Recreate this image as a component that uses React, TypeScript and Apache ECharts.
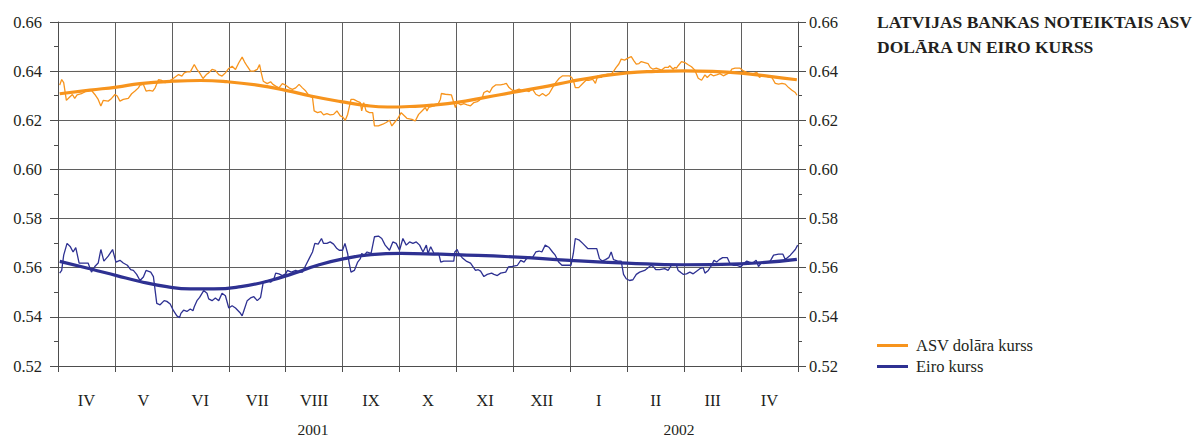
import React, { useEffect, useRef } from "react";
import * as echarts from "echarts";

const FONT = "Liberation Serif";
const TEXT = "#231f20";
const ORANGE = "#f7941d";
const BLUE = "#2e3192";

const monthLabels = ["IV", "V", "VI", "VII", "VIII", "IX", "X", "XI", "XII", "I", "II", "III", "IV"];
const yearLabels = ["2001", "2002"];
const legendNames = ["ASV dolāra kurss", "Eiro kurss"];
const titleLines = ["LATVIJAS BANKAS NOTEIKTAIS ASV", "DOLĀRA UN EIRO KURSS"];

// x = months elapsed since 1 April 2001
const usdDaily: [number, number][] = [
  [0.03,0.6343],[0.065,0.6366],[0.10,0.6353],[0.147,0.6281],[0.206,0.6295],[0.253,0.6305],[0.294,0.6289],[0.335,0.6303],[0.412,0.6308],[0.50,0.6319],[0.588,0.6322],[0.647,0.6305],[0.706,0.6285],[0.753,0.6258],[0.794,0.6281],[0.882,0.6278],[0.941,0.6289],[1.0,0.6305],[1.041,0.6299],[1.088,0.6278],[1.147,0.6285],[1.235,0.6289],[1.294,0.6308],[1.353,0.6319],[1.412,0.6332],[1.441,0.6343],[1.50,0.6346],[1.547,0.6319],[1.606,0.6322],[1.665,0.6319],[1.706,0.6332],[1.765,0.6365],[1.824,0.6362],[1.882,0.6353],[1.941,0.6359],[2.0,0.6366],[2.059,0.6376],[2.118,0.6386],[2.176,0.638],[2.218,0.6393],[2.265,0.6397],[2.324,0.6397],[2.394,0.6427],[2.441,0.6407],[2.488,0.6393],[2.547,0.637],[2.606,0.6386],[2.647,0.6393],[2.706,0.6407],[2.765,0.6403],[2.824,0.6386],[2.882,0.638],[2.941,0.6393],[3.0,0.6411],[3.059,0.642],[3.118,0.6407],[3.176,0.6434],[3.235,0.6457],[3.276,0.6438],[3.324,0.642],[3.382,0.64],[3.441,0.64],[3.50,0.6407],[3.541,0.6427],[3.571,0.6393],[3.606,0.6359],[3.676,0.6349],[3.735,0.6357],[3.776,0.6346],[3.824,0.6339],[3.882,0.6332],[3.941,0.6349],[4.0,0.6343],[4.059,0.6332],[4.118,0.6326],[4.176,0.6332],[4.235,0.6346],[4.294,0.6332],[4.353,0.6319],[4.412,0.6299],[4.471,0.6292],[4.50,0.6238],[4.559,0.6231],[4.618,0.6235],[4.665,0.6222],[4.724,0.6227],[4.782,0.6222],[4.841,0.6224],[4.90,0.6238],[4.959,0.6218],[5.0,0.6214],[5.047,0.62],[5.088,0.6224],[5.147,0.6285],[5.194,0.6285],[5.253,0.6278],[5.312,0.6272],[5.335,0.6238],[5.371,0.6272],[5.412,0.6238],[5.471,0.6231],[5.529,0.6231],[5.559,0.6177],[5.629,0.6177],[5.706,0.6184],[5.765,0.6191],[5.824,0.62],[5.865,0.6177],[5.912,0.6191],[5.971,0.6208],[6.029,0.6231],[6.129,0.6208],[6.218,0.6204],[6.276,0.6197],[6.335,0.6224],[6.394,0.6238],[6.453,0.6252],[6.482,0.6238],[6.512,0.6252],[6.60,0.6259],[6.676,0.6265],[6.718,0.6286],[6.735,0.6309],[6.806,0.6306],[6.912,0.6303],[6.953,0.6272],[6.982,0.6252],[7.012,0.6272],[7.071,0.6263],[7.129,0.6268],[7.188,0.6263],[7.247,0.6259],[7.306,0.6272],[7.365,0.6276],[7.406,0.6282],[7.453,0.6293],[7.482,0.6313],[7.541,0.632],[7.582,0.6313],[7.629,0.6333],[7.688,0.6344],[7.776,0.6344],[7.835,0.6347],[7.876,0.635],[7.924,0.6333],[7.982,0.6322],[8.041,0.6322],[8.10,0.6327],[8.159,0.632],[8.218,0.6322],[8.276,0.6317],[8.335,0.6327],[8.394,0.6306],[8.453,0.6299],[8.512,0.6309],[8.571,0.6299],[8.629,0.6309],[8.688,0.6333],[8.747,0.6354],[8.806,0.6371],[8.865,0.6381],[8.924,0.6381],[8.982,0.6381],[9.024,0.6374],[9.053,0.6363],[9.088,0.6333],[9.147,0.6333],[9.218,0.635],[9.276,0.6363],[9.335,0.6363],[9.394,0.6367],[9.441,0.635],[9.482,0.6381],[9.541,0.6374],[9.60,0.6385],[9.659,0.6388],[9.718,0.6388],[9.765,0.6401],[9.806,0.6415],[9.853,0.6429],[9.894,0.6449],[9.953,0.6445],[10.012,0.6453],[10.071,0.6459],[10.118,0.6442],[10.159,0.6429],[10.206,0.6431],[10.247,0.6439],[10.306,0.6435],[10.365,0.6431],[10.406,0.6415],[10.453,0.6408],[10.512,0.6412],[10.60,0.6404],[10.659,0.6415],[10.718,0.6415],[10.747,0.6422],[10.806,0.6408],[10.835,0.6415],[10.865,0.6412],[10.894,0.6422],[10.953,0.6439],[11.012,0.6435],[11.071,0.6426],[11.129,0.6418],[11.188,0.6404],[11.247,0.6371],[11.306,0.6363],[11.365,0.6385],[11.406,0.6374],[11.465,0.6388],[11.512,0.6381],[11.571,0.6385],[11.629,0.639],[11.688,0.6381],[11.747,0.6388],[11.806,0.6395],[11.835,0.6408],[11.894,0.6412],[11.982,0.6412],[12.041,0.6401],[12.10,0.6395],[12.159,0.639],[12.218,0.639],[12.276,0.6395],[12.324,0.6374],[12.365,0.6385],[12.424,0.6381],[12.482,0.6377],[12.541,0.6374],[12.60,0.635],[12.659,0.6347],[12.718,0.635],[12.776,0.6347],[12.835,0.6333],[12.894,0.6322],[12.953,0.6313],[12.982,0.6302]
];

const usdTrend: [number, number][] = [
  [0.03,0.6308],[0.56,0.6323],[1.03,0.6335],[1.44,0.6349],[2.03,0.6359],[2.5,0.6362],[2.97,0.6357],[3.5,0.6343],[4.0,0.6322],[4.44,0.6299],[4.97,0.6276],[5.38,0.6261],[5.79,0.6254],[6.27,0.6257],[6.63,0.6263],[6.98,0.6272],[7.51,0.6293],[7.98,0.6313],[8.51,0.6335],[9.0,0.6358],[9.5,0.6378],[10.0,0.6393],[10.5,0.6399],[11.0,0.6401],[11.5,0.6399],[12.0,0.6392],[12.5,0.6379],[12.98,0.6365]
];

const eurDaily: [number, number][] = [
  [0.029,0.5578],[0.065,0.5589],[0.10,0.5651],[0.159,0.5699],[0.218,0.5685],[0.265,0.5664],[0.312,0.5682],[0.371,0.5619],[0.441,0.5619],[0.529,0.5619],[0.588,0.5582],[0.647,0.5605],[0.706,0.5619],[0.753,0.5674],[0.806,0.5627],[0.882,0.5647],[0.959,0.5674],[1.018,0.5623],[1.088,0.563],[1.147,0.5619],[1.218,0.561],[1.276,0.5592],[1.324,0.5589],[1.382,0.5573],[1.441,0.5548],[1.50,0.5562],[1.547,0.5589],[1.629,0.5582],[1.676,0.5564],[1.735,0.5455],[1.794,0.5449],[1.865,0.5466],[1.912,0.5463],[1.971,0.5452],[2.029,0.5425],[2.088,0.5404],[2.135,0.5397],[2.159,0.5414],[2.206,0.5427],[2.265,0.5422],[2.324,0.5432],[2.371,0.5425],[2.394,0.5441],[2.441,0.5466],[2.488,0.5479],[2.559,0.5507],[2.618,0.5496],[2.647,0.5473],[2.706,0.5466],[2.765,0.5477],[2.824,0.5466],[2.882,0.5496],[2.941,0.5486],[3.0,0.5436],[3.059,0.5445],[3.118,0.5436],[3.194,0.5418],[3.235,0.5404],[3.265,0.5425],[3.324,0.5466],[3.382,0.5477],[3.441,0.5482],[3.50,0.5466],[3.559,0.5479],[3.606,0.5541],[3.676,0.5548],[3.735,0.5541],[3.794,0.5555],[3.824,0.5578],[3.882,0.5575],[3.941,0.5568],[4.0,0.5575],[4.029,0.5589],[4.10,0.5582],[4.176,0.5589],[4.235,0.5582],[4.294,0.5582],[4.353,0.561],[4.412,0.5637],[4.471,0.5664],[4.512,0.5699],[4.571,0.5696],[4.629,0.5719],[4.665,0.5699],[4.724,0.5699],[4.782,0.5705],[4.841,0.5696],[4.90,0.5678],[4.941,0.5671],[5.0,0.5671],[5.041,0.5699],[5.088,0.5658],[5.118,0.5616],[5.147,0.5582],[5.206,0.5589],[5.265,0.5623],[5.312,0.5637],[5.335,0.5658],[5.382,0.5651],[5.429,0.5664],[5.50,0.5658],[5.559,0.5726],[5.629,0.5729],[5.688,0.5719],[5.747,0.5692],[5.824,0.5671],[5.882,0.5705],[5.941,0.5699],[6.0,0.5671],[6.059,0.5719],[6.118,0.5692],[6.176,0.5705],[6.235,0.5699],[6.294,0.5705],[6.353,0.5692],[6.412,0.5664],[6.471,0.5692],[6.50,0.5658],[6.547,0.5685],[6.606,0.5658],[6.688,0.5658],[6.724,0.5623],[6.776,0.5627],[6.865,0.5627],[6.953,0.5627],[6.971,0.5664],[7.012,0.5674],[7.041,0.5658],[7.10,0.5641],[7.171,0.5627],[7.247,0.5619],[7.335,0.5589],[7.382,0.5592],[7.424,0.5586],[7.482,0.5564],[7.541,0.5573],[7.618,0.5578],[7.659,0.5573],[7.718,0.5568],[7.776,0.5578],[7.865,0.5582],[7.912,0.5603],[7.982,0.5605],[8.071,0.561],[8.129,0.563],[8.188,0.5623],[8.218,0.5633],[8.276,0.5644],[8.335,0.5641],[8.394,0.5664],[8.453,0.5668],[8.50,0.5664],[8.559,0.5692],[8.629,0.5682],[8.688,0.5664],[8.735,0.5651],[8.794,0.5623],[8.853,0.561],[8.924,0.561],[9.012,0.561],[9.053,0.5658],[9.088,0.5719],[9.159,0.5712],[9.218,0.5699],[9.306,0.5678],[9.394,0.5678],[9.465,0.5678],[9.512,0.5637],[9.559,0.5627],[9.618,0.5633],[9.676,0.5641],[9.718,0.5664],[9.759,0.5633],[9.835,0.5627],[9.894,0.5627],[9.935,0.5573],[9.982,0.5555],[10.041,0.5548],[10.10,0.5551],[10.159,0.5573],[10.218,0.5582],[10.306,0.5589],[10.382,0.5603],[10.424,0.561],[10.465,0.5603],[10.50,0.5592],[10.571,0.5592],[10.659,0.5596],[10.718,0.5589],[10.776,0.561],[10.865,0.561],[10.894,0.5589],[10.935,0.5582],[10.982,0.5573],[11.041,0.5575],[11.10,0.5582],[11.159,0.5575],[11.218,0.5586],[11.276,0.5596],[11.335,0.56],[11.365,0.5578],[11.424,0.5589],[11.482,0.561],[11.524,0.563],[11.571,0.5623],[11.618,0.5633],[11.676,0.5641],[11.759,0.5641],[11.806,0.5616],[11.865,0.561],[11.924,0.561],[11.994,0.5603],[12.041,0.5616],[12.10,0.5627],[12.147,0.5623],[12.206,0.5619],[12.265,0.563],[12.306,0.5605],[12.365,0.5623],[12.453,0.5623],[12.512,0.5627],[12.571,0.5651],[12.659,0.5655],[12.735,0.5655],[12.776,0.5633],[12.865,0.5651],[12.953,0.5674],[12.994,0.5692]
];

const eurTrend: [number, number][] = [
  [0.03,0.5626],[0.56,0.5596],[1.03,0.5568],[1.44,0.5544],[1.91,0.5523],[2.32,0.5514],[2.74,0.5514],[3.21,0.5523],[3.68,0.5545],[4.15,0.5578],[4.56,0.561],[5.03,0.5637],[5.5,0.5653],[6.03,0.5658],[6.72,0.5655],[6.99,0.5653],[7.99,0.5644],[8.99,0.563],[9.99,0.5619],[10.99,0.5612],[11.98,0.5616],[12.98,0.5634]
];

const yMin = 0.52;
const yMax = 0.66;
const yStep = 0.02;

export default function App() {
  const ref = useRef<HTMLDivElement>(null);
  useEffect(() => {
    if (!ref.current) return;
    const chart = echarts.init(ref.current, null, { renderer: "svg" });
    const axisColor = "#4d4d4d";
    const gridColor = "#5f5f5f";
    const labelText = { fontSize: 16.5, fontFamily: FONT, color: TEXT };
    const yAxisBase = (pos: "left" | "right") => ({
      type: "value",
      position: pos,
      min: yMin,
      max: yMax,
      interval: yStep,
      offset: pos === "left" ? 5 : 0,
      axisLine: { show: true, lineStyle: { color: axisColor, width: 1 } },
      axisTick: { show: true, length: 8, lineStyle: { color: axisColor } },
      minorTick: { show: true, splitNumber: 2, length: 4, lineStyle: { color: axisColor } },
      axisLabel: {
        formatter: (v: number) => v.toFixed(2),
        margin: 11,
        ...labelText,
      },
      splitLine: { show: pos === "left", lineStyle: { color: gridColor, width: 1 } },
    });
    chart.setOption({
      animation: false,
      backgroundColor: "#fff",
      textStyle: { fontFamily: FONT, color: TEXT },
      title: {
        text: titleLines.join("\n"),
        left: 877,
        top: 10,
        padding: 0,
        textStyle: {
          fontFamily: FONT,
          fontSize: 17.5,
          fontWeight: "bold",
          color: TEXT,
          lineHeight: 24.5,
        },
      },
      legend: {
        data: legendNames,
        orient: "vertical",
        left: 877,
        top: 337,
        padding: 0,
        icon: "rect",
        itemWidth: 31,
        itemHeight: 3,
        itemGap: 4,
        selectedMode: false,
        textStyle: {
          ...labelText,
          lineHeight: 16,
          padding: [0, 0, 0, 3],
        },
      },
      grid: { left: 58, right: 404, top: 22, bottom: 72, containLabel: false },
      xAxis: [
        {
          type: "category",
          data: monthLabels,
          boundaryGap: true,
          axisLine: { show: true, lineStyle: { color: axisColor } },
          axisTick: { show: true, length: 6, lineStyle: { color: axisColor } },
          axisLabel: { interval: 0, margin: 26, ...labelText },
          splitLine: { show: true, interval: 0, lineStyle: { color: gridColor, width: 1 } },
        },
        { type: "value", min: 0, max: 13, show: false },
      ],
      yAxis: [yAxisBase("left"), yAxisBase("right")],
      graphic: [
        {
          type: "text",
          x: 313,
          y: 429,
          style: { text: yearLabels[0], fontFamily: FONT, fontSize: 15.5, fill: TEXT, align: "center", verticalAlign: "middle" },
        },
        {
          type: "text",
          x: 679,
          y: 429,
          style: { text: yearLabels[1], fontFamily: FONT, fontSize: 15.5, fill: TEXT, align: "center", verticalAlign: "middle" },
        },
      ],
      series: [
        {
          name: "usdDaily",
          type: "line",
          xAxisIndex: 1,
          yAxisIndex: 0,
          data: usdDaily,
          showSymbol: false,
          color: ORANGE,
          lineStyle: { color: ORANGE, width: 1.3 },
          z: 3,
        },
        {
          name: "eurDaily",
          type: "line",
          xAxisIndex: 1,
          yAxisIndex: 0,
          data: eurDaily,
          showSymbol: false,
          color: BLUE,
          lineStyle: { color: BLUE, width: 1.3 },
          z: 3,
        },
        {
          name: legendNames[0],
          type: "line",
          xAxisIndex: 1,
          yAxisIndex: 0,
          data: usdTrend,
          smooth: true,
          showSymbol: false,
          color: ORANGE,
          lineStyle: { color: ORANGE, width: 3.2 },
          z: 4,
        },
        {
          name: legendNames[1],
          type: "line",
          xAxisIndex: 1,
          yAxisIndex: 0,
          data: eurTrend,
          smooth: true,
          showSymbol: false,
          color: BLUE,
          lineStyle: { color: BLUE, width: 3.2 },
          z: 4,
        },
      ],
    });
    return () => chart.dispose();
  }, []);
  return (
    <div
      ref={ref}
      style={{ position: "absolute", left: 0, top: 0, width: 1202, height: 438 }}
    />
  );
}
